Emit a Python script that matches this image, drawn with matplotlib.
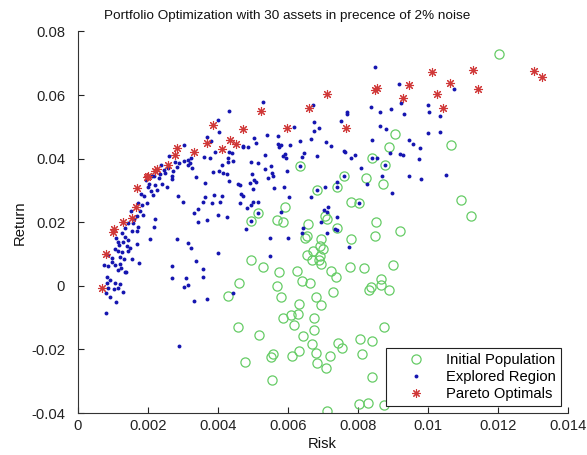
import matplotlib
matplotlib.use("Agg")
import matplotlib.pyplot as plt
from matplotlib.lines import Line2D

plt.rcParams['font.family'] = ['Liberation Sans', 'DejaVu Sans']

title = "Portfolio Optimization with 30 assets in precence of 2% noise"
x_label = "Risk"
y_label = "Return"
legend_labels = ["Initial Population", "Explored Region", "Pareto Optimals"]

x_ticks = [0, 0.002, 0.004, 0.006, 0.008, 0.01, 0.012, 0.014]
x_tick_labels = ["0", "0.002", "0.004", "0.006", "0.008", "0.01", "0.012", "0.014"]
y_ticks = [-0.04, -0.02, 0, 0.02, 0.04, 0.06, 0.08]
y_tick_labels = ["-0.04", "-0.02", "0", "0.02", "0.04", "0.06", "0.08"]

# Initial population (green circles)
init_risk = [
    0.01205, 0.01066, 0.01095, 0.01123, 0.00921, 0.00907, 0.00890, 0.00842, 0.00878, 0.00635,
    0.00762, 0.00823, 0.00871, 0.00742, 0.00683, 0.00780, 0.00805, 0.00592, 0.00516, 0.00496,
    0.00569, 0.00586, 0.00707, 0.00713, 0.00657, 0.00740, 0.00851, 0.00850, 0.00780, 0.00649,
    0.00654, 0.00694, 0.00692, 0.00702, 0.00673, 0.00654, 0.00692, 0.00670, 0.00689, 0.00694,
    0.00495, 0.00529, 0.00575, 0.00627, 0.00725, 0.00737, 0.00778, 0.00819, 0.00901, 0.00461,
    0.00569, 0.00640, 0.00664, 0.00866, 0.00867, 0.00837, 0.00832, 0.00889, 0.00580, 0.00681,
    0.00729, 0.00633, 0.00696, 0.00587, 0.00609, 0.00630, 0.00675, 0.00429, 0.00459, 0.00478,
    0.00518, 0.00618, 0.00675, 0.00645, 0.00669, 0.00743, 0.00756, 0.00807, 0.00840, 0.00875,
    0.00633, 0.00681, 0.00557, 0.00551, 0.00611, 0.00721, 0.00813, 0.00683, 0.00709, 0.00555,
    0.00842, 0.00711, 0.00804, 0.00829, 0.00876,
]
init_return = [
    0.0730, 0.0442, 0.0271, 0.0221, 0.0171, 0.0478, 0.0436, 0.0402, 0.0381, 0.0378,
    0.0347, 0.0339, 0.0321, 0.0312, 0.0300, 0.0263, 0.0260, 0.0248, 0.0229, 0.0204,
    0.0208, 0.0202, 0.0221, 0.0210, 0.0194, 0.0183, 0.0200, 0.0157, 0.0146, 0.0152,
    0.0157, 0.0147, 0.0126, 0.0115, 0.0108, 0.0097, 0.0094, 0.0082, 0.0082, 0.0068,
    0.0082, 0.0058, 0.0043, 0.0046, 0.0047, 0.0027, 0.0058, 0.0056, 0.0067, 0.0010,
    0.0000, 0.0014, 0.0008, 0.0021, 0.0003, -0.0005, -0.0013, -0.0013, -0.0034, -0.0036,
    -0.0020, -0.0057, -0.0060, -0.0102, -0.0093, -0.0088, -0.0102, -0.0031, -0.0128, -0.0241,
    -0.0156, -0.0123, -0.0138, -0.0159, -0.0183, -0.0180, -0.0194, -0.0168, -0.0173, -0.0128,
    -0.0204, -0.0212, -0.0215, -0.0224, -0.0222, -0.0222, -0.0215, -0.0243, -0.0259, -0.0296,
    -0.0288, -0.0393, -0.0372, -0.0369, -0.0374,
]

# Explored region (blue dots)
expl_risk = [
    0.00433, 0.00400, 0.00404, 0.00369, 0.00380, 0.00305, 0.00261, 0.00361, 0.00378, 0.00392,
    0.00433, 0.00440, 0.00430, 0.00443, 0.00411, 0.00429, 0.00387, 0.00404, 0.00416, 0.00427,
    0.00471, 0.00338, 0.00238, 0.00249, 0.00211, 0.00218, 0.00269, 0.00273, 0.00283, 0.00290,
    0.00304, 0.00316, 0.00324, 0.00321, 0.00327, 0.00314, 0.00278,
    0.00849, 0.00530, 0.00671, 0.00769, 0.00770, 0.00752, 0.00675, 0.00690, 0.00675, 0.00619,
    0.00837, 0.00864, 0.00895, 0.00918, 0.00933, 0.00924, 0.00864, 0.00880, 0.00947, 0.00842,
    0.00920, 0.00930, 0.00892, 0.00856, 0.00842, 0.00878, 0.00870, 0.00809, 0.00792, 0.00780,
    0.00761, 0.00765, 0.00724, 0.00709, 0.00666, 0.00635, 0.00647, 0.00642, 0.00683, 0.00635,
    0.00762, 0.00607, 0.00580, 0.00573, 0.00576, 0.00542, 0.00573, 0.00504, 0.00509, 0.00473,
    0.00486, 0.00535, 0.00592, 0.00595, 0.00586, 0.00494, 0.00516, 0.00552, 0.00599, 0.00535,
    0.00554, 0.00559, 0.00497,
    0.01076, 0.01002, 0.01005, 0.01035, 0.01002, 0.01035, 0.00957, 0.00978, 0.00976, 0.00947,
    0.00981, 0.01051,
    0.00504, 0.00492, 0.00509, 0.00545, 0.00562, 0.00590, 0.00500, 0.00464, 0.00471, 0.00502,
    0.00516, 0.00464, 0.00485, 0.00495, 0.00516, 0.00496, 0.00480, 0.00580, 0.00605, 0.00666,
    0.00683, 0.00707, 0.00742, 0.00742, 0.00826, 0.00897, 0.00805, 0.00716, 0.00705, 0.00713,
    0.00740, 0.00695, 0.00735, 0.00740, 0.00713, 0.00643, 0.00640, 0.00549, 0.00600, 0.00776,
    0.00549,
    0.00195, 0.00235, 0.00269, 0.00242, 0.00254, 0.00221, 0.00200, 0.00209, 0.00214, 0.00226,
    0.00190, 0.00197, 0.00183, 0.00178, 0.00187, 0.00169, 0.00159, 0.00171, 0.00169, 0.00145,
    0.00154, 0.00135, 0.00126, 0.00114, 0.00135, 0.00145, 0.00130, 0.00140, 0.00107, 0.00116,
    0.00126, 0.00145, 0.00149, 0.00087, 0.00099, 0.00097, 0.00121, 0.00133, 0.00154, 0.00076,
    0.00087, 0.00107, 0.00121, 0.00124, 0.00135, 0.00114, 0.00083, 0.00092, 0.00083, 0.00107,
    0.00121, 0.00087, 0.00080, 0.00105, 0.00114, 0.00130, 0.00092, 0.00109, 0.00080, 0.00221,
    0.00219, 0.00207, 0.00169, 0.00175, 0.00138, 0.00287, 0.00302, 0.00332, 0.00345, 0.00345,
    0.00369, 0.00359, 0.00364, 0.00383, 0.00390, 0.00407, 0.00411, 0.00402, 0.00426, 0.00432,
    0.00364, 0.00459, 0.00467, 0.00283, 0.00316, 0.00324, 0.00402, 0.00338, 0.00270, 0.00359,
    0.00359, 0.00269, 0.00309, 0.00316, 0.00305, 0.00369, 0.00333, 0.00445, 0.00290,
    0.00172, 0.00180, 0.00205, 0.00232, 0.00152, 0.00118, 0.00110, 0.00160, 0.00246, 0.00258,
]
expl_return = [
    0.0550, 0.0522, 0.0483, 0.0468, 0.0456, 0.0442, 0.0409, 0.0405, 0.0402, 0.0422,
    0.0422, 0.0419, 0.0403, 0.0393, 0.0381, 0.0389, 0.0359, 0.0362, 0.0356, 0.0352,
    0.0440, 0.0342, 0.0381, 0.0354, 0.0344, 0.0347, 0.0344, 0.0362, 0.0375, 0.0386,
    0.0393, 0.0396, 0.0403, 0.0386, 0.0372, 0.0381, 0.0391,
    0.0688, 0.0578, 0.0569, 0.0548, 0.0541, 0.0519, 0.0515, 0.0498, 0.0488, 0.0501,
    0.0561, 0.0548, 0.0557, 0.0634, 0.0541, 0.0576, 0.0503, 0.0493, 0.0459, 0.0459,
    0.0415, 0.0412, 0.0417, 0.0402, 0.0402, 0.0381, 0.0347, 0.0370, 0.0412, 0.0402,
    0.0425, 0.0422, 0.0441, 0.0451, 0.0462, 0.0457, 0.0419, 0.0405, 0.0407, 0.0378,
    0.0347, 0.0443, 0.0443, 0.0446, 0.0436, 0.0475, 0.0472, 0.0464, 0.0449, 0.0438,
    0.0438, 0.0412, 0.0415, 0.0403, 0.0409, 0.0388, 0.0386, 0.0377, 0.0362, 0.0367,
    0.0354, 0.0344, 0.0352,
    0.0619, 0.0569, 0.0548, 0.0535, 0.0480, 0.0485, 0.0447, 0.0435, 0.0399, 0.0346,
    0.0336, 0.0349,
    0.0333, 0.0325, 0.0326, 0.0339, 0.0309, 0.0310, 0.0305, 0.0318, 0.0281, 0.0265,
    0.0263, 0.0260, 0.0246, 0.0255, 0.0229, 0.0204, 0.0178, 0.0232, 0.0279, 0.0278,
    0.0300, 0.0312, 0.0312, 0.0328, 0.0321, 0.0292, 0.0260, 0.0248, 0.0237, 0.0232,
    0.0215, 0.0200, 0.0178, 0.0176, 0.0166, 0.0181, 0.0166, 0.0150, 0.0150, 0.0122,
    0.0095,
    0.0333, 0.0352, 0.0336, 0.0321, 0.0312, 0.0318, 0.0312, 0.0297, 0.0286, 0.0300,
    0.0281, 0.0260, 0.0255, 0.0234, 0.0223, 0.0221, 0.0197, 0.0186, 0.0174, 0.0199,
    0.0171, 0.0181, 0.0166, 0.0139, 0.0155, 0.0145, 0.0139, 0.0124, 0.0115, 0.0108,
    0.0105, 0.0108, 0.0119, 0.0097, 0.0087, 0.0076, 0.0090, 0.0084, 0.0084, 0.0066,
    0.0061, 0.0066, 0.0069, 0.0056, 0.0045, 0.0050, 0.0029, 0.0019, 0.0008, 0.0008,
    0.0005, -0.0007, -0.0023, -0.0010, -0.0007, -0.0018, -0.0036, -0.0051, -0.0086, 0.0211,
    0.0186, 0.0147, 0.0131, 0.0071, 0.0042, 0.0281, 0.0265, 0.0229, 0.0241, 0.0202,
    0.0208, 0.0265, 0.0278, 0.0260, 0.0286, 0.0265, 0.0281, 0.0223, 0.0218, 0.0330,
    0.0325, 0.0321, 0.0288, 0.0148, 0.0134, 0.0119, 0.0103, 0.0079, 0.0061, 0.0053,
    0.0029, 0.0024, 0.0024, 0.0003, -0.0005, -0.0041, -0.0047, -0.0021, -0.0189,
    0.0262, 0.0290, 0.0320, 0.0338, 0.0236, 0.0128, 0.0152, 0.0210, 0.0365, 0.0372,
]

# Pareto optimal portfolios (red asterisks)
pareto_risk = [
    0.00069, 0.00080, 0.00105, 0.00101, 0.00130, 0.00154, 0.00167, 0.00169, 0.00197, 0.00200,
    0.00221, 0.00226, 0.00257, 0.00278, 0.00283, 0.00333, 0.00370, 0.00387, 0.00411, 0.00435,
    0.00452, 0.00472, 0.00523, 0.00597, 0.00662, 0.00713, 0.00767, 0.00849, 0.00854, 0.00930,
    0.00947, 0.01013, 0.01027, 0.01045, 0.01064, 0.01130, 0.01143, 0.01305, 0.01326,
]
pareto_return = [
    -0.0007, 0.0100, 0.0178, 0.0170, 0.0202, 0.0213, 0.0249, 0.0307, 0.0342, 0.0347,
    0.0360, 0.0367, 0.0381, 0.0412, 0.0433, 0.0422, 0.0449, 0.0506, 0.0431, 0.0459,
    0.0447, 0.0493, 0.0550, 0.0498, 0.0559, 0.0604, 0.0498, 0.0616, 0.0622, 0.0590,
    0.0632, 0.0671, 0.0603, 0.0558, 0.0639, 0.0679, 0.0619, 0.0677, 0.0657,
]

green = '#66cc66'
blue = '#1515b0'
red = '#d03838'
star_marker = (8, 2, 0)

fig = plt.figure(figsize=(5.87, 4.55), dpi=100)
ax = fig.add_axes([0.1324, 0.0923, 0.8348, 0.8385])

ax.plot(init_risk, init_return, linestyle='none', marker='o', ms=6.6,
        mfc='none', mec=green, mew=0.9)
ax.plot(expl_risk, expl_return, linestyle='none', marker='o', ms=2.8,
        mfc=blue, mec=blue, mew=0)
ax.plot(pareto_risk, pareto_return, linestyle='none', marker=star_marker, ms=6.5,
        mfc=red, mec=red, mew=0.8)

ax.set_xlim(0, 0.014)
ax.set_ylim(-0.04, 0.08)
ax.set_xticks(x_ticks)
ax.set_xticklabels(x_tick_labels)
ax.set_yticks(y_ticks)
ax.set_yticklabels(y_tick_labels)
ax.tick_params(direction='in', length=4, width=0.8, labelsize=10.6, colors='#222222')
ax.tick_params(axis='x', pad=4)
ax.tick_params(axis='y', pad=9)
for s in ['top', 'right']:
    ax.spines[s].set_visible(False)
for s in ['left', 'bottom']:
    ax.spines[s].set_color('#333333')
    ax.spines[s].set_linewidth(0.8)

ax.set_title(title, fontsize=9.7, pad=9, color='#111111', x=0.428)
ax.set_xlabel(x_label, fontsize=10.6, labelpad=3, color='#111111')
ax.set_ylabel(y_label, fontsize=10.6, labelpad=3, color='#111111')

handles = [
    Line2D([], [], linestyle='none', marker='o', ms=6.6, mfc='none', mec=green, mew=0.9),
    Line2D([], [], linestyle='none', marker='o', ms=2.8, mfc=blue, mec=blue, mew=0),
    Line2D([], [], linestyle='none', marker=star_marker, ms=6, mfc=red, mec=red, mew=0.8),
]
leg = ax.legend(handles, legend_labels, loc='lower right', bbox_to_anchor=(0.986, 0.018),
                borderaxespad=0, fontsize=10.6, frameon=True, fancybox=False,
                edgecolor='#222222', framealpha=1, handlelength=3.4, handletextpad=0.3,
                borderpad=0.35, labelspacing=0.2)
leg.get_frame().set_linewidth(0.8)

fig.savefig('out.png', dpi=100, facecolor='white')
